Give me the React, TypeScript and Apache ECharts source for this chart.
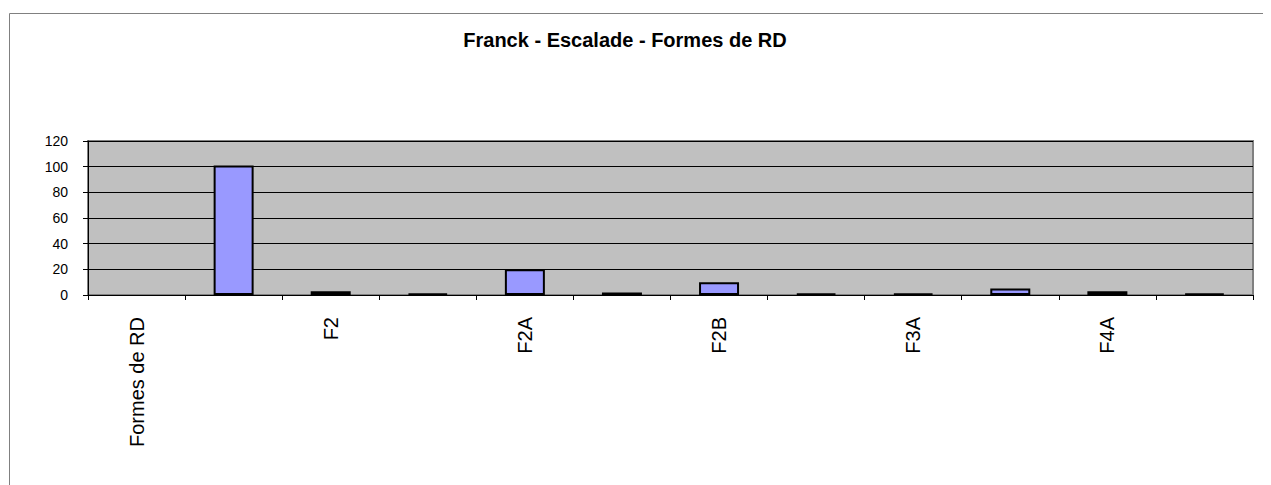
import React, { useEffect, useRef } from "react";
import * as echarts from "echarts";

const titleText = "Franck - Escalade - Formes de RD";
const categories = ["Formes de RD", "F1", "F2", "F2+", "F2A", "F2A+", "F2B", "F2B+", "F3A", "F3B", "F4A", "F4B"];
const values = [0, 101, 3, 1, 20, 2, 10, 1, 1, 5, 3, 1];
const yTicks = { min: 0, max: 120, interval: 20 };

export default function App() {
  const ref = useRef<HTMLDivElement>(null);
  useEffect(() => {
    if (!ref.current) return;
    const chart = echarts.init(ref.current, undefined, { renderer: "svg" });
    chart.setOption({
      animation: false,
      backgroundColor: "#ffffff",
      textStyle: { fontFamily: "Liberation Sans, Arial, sans-serif" },
      title: {
        text: titleText,
        left: 612,
        textAlign: "center",
        top: 17,
        textStyle: { fontSize: 20, fontWeight: "bold", color: "#000", fontFamily: "Liberation Sans, Arial, sans-serif" },
      },
      graphic: [
        {
          type: "rect",
          shape: { x: 1.5, y: 5.5, width: 1400, height: 600 },
          style: { fill: "none", stroke: "#808080", lineWidth: 1 },
          silent: true,
          z: -10,
        },
      ],
      grid: {
        left: 80,
        top: 133,
        width: 1165,
        height: 154,
        show: true,
        backgroundColor: "#C0C0C0",
        borderColor: "#808080",
        borderWidth: 2,
      },
      xAxis: {
        type: "category",
        data: categories,
        boundaryGap: true,
        axisLine: { show: true, lineStyle: { color: "#000", width: 1 } },
        axisTick: { show: true, alignWithLabel: false, interval: 0, length: 5, lineStyle: { color: "#000" } },
        axisLabel: {
          interval: 1,
          rotate: 90,
          margin: 22,
          fontSize: 20,
          color: "#000",
          fontFamily: "Liberation Sans, Arial, sans-serif",
        },
        splitLine: { show: false },
      },
      yAxis: {
        type: "value",
        min: yTicks.min,
        max: yTicks.max,
        interval: yTicks.interval,
        axisLine: { show: true, lineStyle: { color: "#000", width: 1 } },
        axisTick: { show: true, length: 5, lineStyle: { color: "#000" } },
        axisLabel: { fontSize: 14, color: "#000", margin: 20, fontFamily: "Liberation Sans, Arial, sans-serif" },
        splitLine: { show: true, lineStyle: { color: "#000", width: 1 } },
      },
      series: [
        {
          type: "bar",
          data: values.map((v) => (v === 0 ? { value: v, itemStyle: { borderWidth: 0, opacity: 0 } } : v)),
          barWidth: 40,
          itemStyle: { color: "#9999FF", borderColor: "#000", borderWidth: 2 },
        },
      ],
    });
    return () => chart.dispose();
  }, []);
  return <div ref={ref} style={{ width: 1263, height: 477 }} />;
}
